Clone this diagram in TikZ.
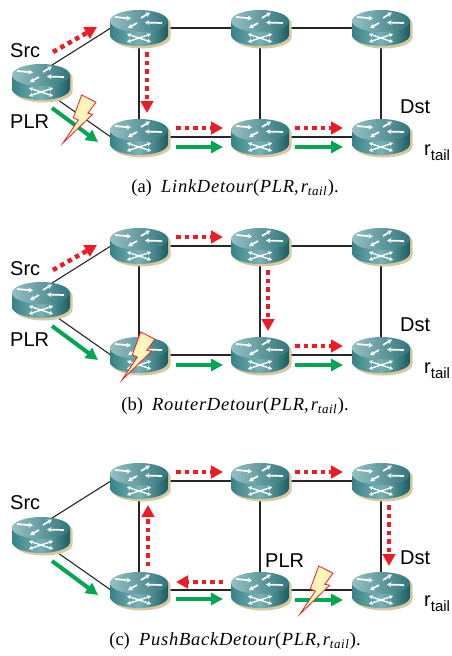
\documentclass[tikz,border=0pt]{standalone}
\usepackage{fontspec}
\setmainfont{Liberation Serif}
\newfontfamily\lblfont{Liberation Sans}
\newfontfamily\capit[LetterSpace=4]{Liberation Serif}
\usetikzlibrary{arrows.meta,backgrounds,calc}

\definecolor{rred}{RGB}{237,28,36}
\definecolor{ggreen}{RGB}{0,166,81}
\definecolor{boltfill}{RGB}{255,244,185}
\definecolor{rshadow}{RGB}{216,200,160}
\definecolor{topL}{RGB}{150,192,195}
\definecolor{topR}{RGB}{48,118,124}
\definecolor{sideL}{RGB}{55,130,135}
\definecolor{sideM}{RGB}{120,178,181}
\definecolor{sideR}{RGB}{24,92,98}

\newcommand\rtricon{%
 \fill[rshadow] (-26.5,4.5) -- (-26.5,-9.5) arc[start angle=180,end angle=360,x radius=29,y radius=11] -- (31.5,4.5) arc[start angle=0,end angle=180,x radius=29,y radius=11] -- cycle;
 \shade[left color=sideL,right color=sideR,middle color=sideM] (-29,7) -- (-29,-7) arc[start angle=180,end angle=360,x radius=29,y radius=11] -- (29,7) -- cycle;
 \shade[left color=topL,right color=topR] (0,7) ellipse[x radius=29,y radius=11];
 \begin{scope}[white,line width=1.7pt,-{Stealth[length=4.5pt,width=5pt]}]
  \draw (-24,11) -- (-8,9.5);
  \draw (2,10) -- (11,15.5);
  \draw (-2,5) -- (-11,0);
  \draw (23,5) -- (6,5.5);
  \draw[line width=1.4pt,{Stealth[length=3.8pt,width=4.2pt]}-{Stealth[length=3.8pt,width=4.2pt]}] (-12,-6) -- (12,-14);
  \draw[line width=1.4pt,{Stealth[length=3.8pt,width=4.2pt]}-{Stealth[length=3.8pt,width=4.2pt]}] (-12,-14) -- (12,-6);
 \end{scope}}

\tikzset{
 router/.style={rectangle,inner sep=0pt,minimum width=64pt,minimum height=42pt,
   path picture={\begin{scope}[shift={(path picture bounding box.center)}]\rtricon\end{scope}}},
 link/.style={draw=black!85,line width=1.1pt},
 reddot/.style={draw=rred,line width=4.5pt,dash pattern=on 4.5pt off 4pt,-{Triangle[length=12pt,width=12.5pt]}},
 greenarr/.style={draw=ggreen,line width=4pt,-{Triangle[length=12pt,width=12pt]}},
 lbl/.style={anchor=base west,inner sep=0pt,font=\lblfont\fontsize{20}{24}\selectfont},
 capt/.style={anchor=base,inner sep=0pt,font=\fontsize{18.5}{21}\selectfont},
 bolt/.pic={\draw[rred,fill=boltfill,line width=0.8pt,line join=miter]
   (1.7,24) -- (16,16.8) -- (7.8,5.8) -- (12.6,4.8) -- (-17,-24) -- (-1.7,-1) -- (-6.8,1) -- cycle;}
}

\newcommand\tailsub{\raisebox{-5pt}{\fontsize{15}{18}\selectfont tail}}
\newcommand\captxt[2]{(#1)\hspace{0.5em}{\capit\itshape #2}(\hspace{0.5pt}{\capit\itshape PLR},\hspace{2pt}{\capit\itshape r}\raisebox{-3pt}{\fontsize{13}{14}\selectfont\capit\itshape tail}\hspace{1pt}).}

\newcommand\drawnet[2]{%
 \begin{scope}[yshift=-#2pt]
  \node[router] (#1src) at (41,-82) {};
  \node[router] (#1tl) at (139,-28) {};
  \node[router] (#1tm) at (260,-28) {};
  \node[router] (#1tr) at (381,-28) {};
  \node[router] (#1bl) at (139,-137) {};
  \node[router] (#1bm) at (260,-137) {};
  \node[router] (#1br) at (381,-137) {};
 \end{scope}
 \begin{scope}[on background layer]
  \draw[link] ([yshift=10pt]#1src.center) -- ([xshift=4pt]#1tl.west);
  \draw[link] ([yshift=-6pt]#1src.center) -- ([xshift=4pt]#1bl.west);
  \draw[link] (#1tl.center) -- (#1tm.center) -- (#1tr.center);
  \draw[link] (#1bl.center) -- (#1bm.center) -- (#1br.center);
  \draw[link] (#1tl.center) -- (#1bl.center);
  \draw[link] (#1tm.center) -- (#1bm.center);
  \draw[link] (#1tr.center) -- (#1br.center);
 \end{scope}}

\begin{document}
\begin{tikzpicture}[x=1pt,y=1pt]
\begin{scope}[on background layer]
\fill[white] (0,0) rectangle (451,-656);
\end{scope}
\useasboundingbox (0,0) rectangle (451,-656);

% ---------------- panel (a)
\drawnet{a_}{0}
\draw[reddot] ($(a_src.center)+(12,30)$) -- ($(a_tl.center)+(-42,1)$);
\draw[reddot] ($(a_tl.center)+(8,-24)$) -- ($(a_bl.center)+(8,24)$);
\draw[reddot] ($(a_bl.center)+(37,9)$) -- ($(a_bm.center)+(-37,9)$);
\draw[reddot] ($(a_bm.center)+(35,9)$) -- ($(a_br.center)+(-38,9)$);
\draw[greenarr] ($(a_src.center)+(11,-26)$) -- ($(a_bl.center)+(-41,-5)$);
\draw[greenarr] ($(a_bl.center)+(37,-10)$) -- ($(a_bm.center)+(-37,-10)$);
\draw[greenarr] ($(a_bm.center)+(35,-10)$) -- ($(a_br.center)+(-38,-10)$);
\pic at ($(a_src.center)+(39,-37)$) {bolt};
\node[lbl] (a_srclbl) at (10,-57) {Src};
\node[lbl] (a_plrlbl) at (10,-128) {PLR};
\node[lbl] (a_dstlbl) at (400,-113) {Dst};
\node[lbl] (a_rtlbl) at (424,-155) {r\tailsub};
\node[capt] (a_cap) at (235,-192) {\captxt{a}{LinkDetour}};

% ---------------- panel (b)
\drawnet{b_}{218}
\draw[reddot] ($(b_src.center)+(12,30)$) -- ($(b_tl.center)+(-42,1)$);
\draw[reddot] ($(b_tl.center)+(37,9)$) -- ($(b_tm.center)+(-37,9)$);
\draw[reddot] ($(b_tm.center)+(8,-24)$) -- ($(b_bm.center)+(8,24)$);
\draw[reddot] ($(b_bm.center)+(35,9)$) -- ($(b_br.center)+(-38,9)$);
\draw[greenarr] ($(b_src.center)+(11,-26)$) -- ($(b_bl.center)+(-41,-5)$);
\draw[greenarr] ($(b_bl.center)+(37,-10)$) -- ($(b_bm.center)+(-37,-10)$);
\draw[greenarr] ($(b_bm.center)+(35,-10)$) -- ($(b_br.center)+(-38,-10)$);
\pic at ($(b_bl.center)+(0,-1)$) {bolt};
\node[lbl] (b_srclbl) at (10,-275) {Src};
\node[lbl] (b_plrlbl) at (10,-346) {PLR};
\node[lbl] (b_dstlbl) at (400,-331) {Dst};
\node[lbl] (b_rtlbl) at (424,-373) {r\tailsub};
\node[capt] (b_cap) at (235,-410) {\captxt{b}{RouterDetour}};

% ---------------- panel (c)
\drawnet{c_}{453}
\draw[greenarr] ($(c_src.center)+(11,-26)$) -- ($(c_bl.center)+(-41,-5)$);
\draw[reddot] ($(c_bl.center)+(9,24)$) -- ($(c_tl.center)+(9,-24)$);
\draw[reddot] ($(c_tl.center)+(37,9)$) -- ($(c_tm.center)+(-37,9)$);
\draw[reddot] ($(c_tm.center)+(35,9)$) -- ($(c_tr.center)+(-38,9)$);
\draw[reddot] ($(c_tr.center)+(8,-24)$) -- ($(c_br.center)+(8,24)$);
\draw[reddot] ($(c_bm.center)+(-37,8)$) -- ($(c_bl.center)+(37,8)$);
\draw[greenarr] ($(c_bl.center)+(37,-9)$) -- ($(c_bm.center)+(-37,-9)$);
\draw[greenarr] ($(c_bm.center)+(35,-10)$) -- ($(c_br.center)+(-38,-10)$);
\pic at ($(c_bm.center)+(57,0)$) {bolt};
\node[lbl] (c_srclbl) at (10,-509) {Src};
\node[lbl] (c_plrlbl) at (265,-567) {PLR};
\node[lbl] (c_dstlbl) at (400,-564) {Dst};
\node[lbl] (c_rtlbl) at (424,-606) {r\tailsub};
\node[capt] (c_cap) at (235,-645) {\captxt{c}{PushBackDetour}};
\end{tikzpicture}
\end{document}
